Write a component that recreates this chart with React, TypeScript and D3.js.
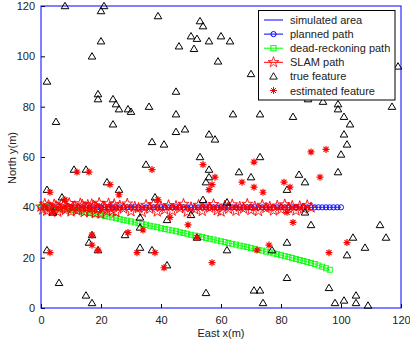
import React from "react";
import * as d3 from "d3";

// planned path (x positions, all at north = 40)
const plannedX = [0, 1.25, 2.5, 3.75, 5, 6.25, 7.5, 8.75, 10, 11.25, 12.5, 13.75, 15, 16.25, 17.5, 18.75, 20, 21.25, 22.5, 23.75, 25, 26.25, 27.5, 28.75, 30, 31.25, 32.5, 33.75, 35, 36.25, 37.5, 38.75, 40, 41.25, 42.5, 43.75, 45, 46.25, 47.5, 48.75, 50, 51.25, 52.5, 53.75, 55, 56.25, 57.5, 58.75, 60, 61.25, 62.5, 63.75, 65, 66.25, 67.5, 68.75, 70, 71.25, 72.5, 73.75, 75, 76.25, 77.5, 78.75, 80, 81.25, 82.5, 83.75, 85, 86.25, 87.5, 88.75, 90, 91.25, 92.5, 93.75, 95, 96.25, 97.5, 98.75, 100];
const plannedY = 40;

const deadReckoning: [number, number][] = [
  [0, 40], [1.25, 40], [2.5, 39.9], [3.75, 39.8], [5, 39.7], [6.25, 39.6], [7.5, 39.4], [8.75, 39.2], [10, 39],
  [11.25, 38.8], [12.5, 38.5], [13.75, 38.3], [15, 38], [16.25, 37.7], [17.5, 37.5], [18.75, 37.2], [20, 36.9],
  [21.25, 36.6], [22.5, 36.3], [23.75, 36], [25, 35.7], [26.25, 35.3], [27.5, 35], [28.75, 34.7], [30, 34.4],
  [31.25, 34], [32.5, 33.7], [33.75, 33.4], [35, 33.1], [36.25, 32.7], [37.5, 32.4], [38.75, 32.1], [40, 31.7],
  [41.25, 31.4], [42.5, 31.1], [43.75, 30.8], [45, 30.5], [46.25, 30.1], [47.5, 29.8], [48.75, 29.5], [50, 29.1],
  [51.25, 28.8], [52.5, 28.5], [53.75, 28.2], [55, 27.8], [56.25, 27.5], [57.5, 27.2], [58.75, 26.8], [60, 26.5],
  [61.25, 26.2], [62.5, 25.8], [63.75, 25.5], [65, 25.2], [66.25, 24.8], [67.5, 24.5], [68.75, 24.2], [70, 23.8],
  [71.25, 23.5], [72.5, 23.1], [73.75, 22.8], [75, 22.4], [76.25, 22.1], [77.5, 21.7], [78.75, 21.4], [80, 21],
  [81.25, 20.6], [82.5, 20.3], [83.75, 19.9], [85, 19.5], [86.25, 19.1], [87.5, 18.7], [88.75, 18.3], [90, 17.9],
  [91.25, 17.5], [92.5, 16.9], [93.75, 16.4], [95, 15.8], [96.25, 15.2],
];

const slamPath: [number, number][] = [
  [0, 40.2], [0.6, 39.1], [1.25, 41.3], [1.9, 38.6], [2.5, 40.8], [3.1, 39.9], [3.75, 38.4], [4.4, 41.1], [5, 40.5],
  [5.6, 38.2], [6.25, 39.4], [6.9, 41.4], [7.5, 40.9], [8.1, 38.9], [8.75, 39.6], [9.4, 41.6], [10, 38.3],
  [10.6, 40.1], [11.25, 40.4], [11.9, 38.7], [12.5, 39.2], [13.1, 41.5], [13.75, 41], [14.4, 38.1], [15, 39.8],
  [15.6, 40.9], [16.25, 38], [16.9, 41.2], [17.5, 40.6], [18.1, 37.6], [18.75, 39.3], [19.4, 41.7], [20, 37.5],
  [20.6, 40.3], [21.25, 40.1], [21.9, 38.4], [22.5, 41.5], [23.1, 39.6], [23.75, 38.6], [24.4, 41.2], [25, 38.1],
  [26.25, 40.7], [27.5, 39.5], [28.75, 41.4], [30, 38.4], [31.25, 40.2], [32.5, 39.7], [33.75, 38.1], [35, 40.9],
  [36.25, 39.4], [37.5, 41.2], [38.75, 38.3], [40, 40.3], [41.25, 39.1], [42.5, 40.8], [43.75, 38.6], [45, 40.5],
  [46.25, 39.6], [47.5, 41.3], [48.75, 38.2], [50, 40], [51.25, 39.2], [52.5, 40.9], [53.75, 38.5], [55, 40.4],
  [56.25, 39.8], [57.5, 41.2], [58.75, 38.8], [60, 38.3], [61.25, 40.6], [62.5, 39.4], [63.75, 41.1], [65, 38.6],
  [66.25, 40.2], [67.5, 39.5], [68.75, 41.3], [70, 38.9], [71.25, 40.3], [72.5, 38.5], [73.75, 40.9], [75, 39.7],
  [76.25, 40.2], [77.5, 38.7], [78.75, 40.6], [80, 39.2], [81.25, 41.1], [82.5, 39.8], [83.75, 40.5], [85, 38.7],
  [86.25, 40.4], [87.5, 39.5], [88.75, 40.8], [90, 39.9],
];

const trueFeatures: [number, number][] = [
  [8, 120], [21, 120], [20, 118], [20, 106], [17, 100], [2, 90], [19, 85], [19, 83], [24, 83], [25, 81], [26, 79],
  [29, 79], [5, 74], [24, 73], [39, 116], [53, 114], [54, 112], [50, 108], [52, 107], [60, 108], [63, 106], [56, 106],
  [46, 104], [51, 103], [59, 98], [70, 93], [45, 86], [36, 80], [45, 77], [64, 77], [73, 77], [30, 78], [119, 96],
  [94, 82], [89, 83], [99, 81], [99, 79], [101, 76], [117, 80], [84, 76], [103, 73], [101, 69], [102, 65], [100, 61],
  [73, 60], [99, 54], [86, 53], [88, 50], [82, 47], [88, 38], [90, 33], [113, 33], [45, 70], [48, 71], [37, 66],
  [41, 65], [56, 69], [58, 67], [53, 60], [56, 55], [56, 52], [55, 50], [66, 54], [70, 52], [35, 57], [38, 44],
  [54, 43], [62, 42], [33, 36], [42, 35], [50, 37], [11, 55], [15, 55], [22, 50], [26, 47], [2, 47], [7, 44], [4, 38],
  [17, 29], [16, 26], [19, 23], [2, 23], [6, 10], [15, 5], [17, 2], [28, 29], [33, 32], [33, 24], [37, 23], [42, 17],
  [52, 28], [62, 23], [55, 6], [71, 7], [73, 7], [74, 2], [115, 28], [104, 28], [108, 24], [102, 21], [82, 26],
  [77, 23], [82, 12], [96, 8], [98, 2], [101, 3], [105, 5], [105, 2], [109, 1],
];

const estimatedFeatures: [number, number][] = [
  [3, 46], [8, 43], [12, 54], [16, 54], [23, 49], [26, 45], [4, 38], [17, 29], [17, 25], [19, 23], [3, 22], [29, 30],
  [32, 22], [34, 31], [38, 22], [41, 16], [52, 28], [57, 18], [72, 23], [76, 25], [96, 22], [102, 26], [84, 34],
  [82, 38], [74, 46], [83, 48], [81, 50], [93, 52], [90, 62], [95, 63], [54, 57], [58, 52], [57, 49], [56, 47],
  [37, 55], [71, 58], [67, 50], [71, 48], [39, 43], [43, 36], [49, 33],
];

const ticks = [0, 20, 40, 60, 80, 100, 120];
const legendLabels = ["simulated area", "planned path", "dead-reckoning path", "SLAM path", "true feature", "estimated feature"];

const width = 410;
const height = 345;
const margin = { top: 6, right: 9, bottom: 37, left: 41 };
const font = "'Liberation Sans', Arial, sans-serif";

const triPath = "M0,-3.7L3.8,2.7L-3.8,2.7Z";
const asterisk = "M-3.5,0H3.5M0,-3.5V3.5M-2.5,-2.5L2.5,2.5M-2.5,2.5L2.5,-2.5";
const starPath = d3.symbol(d3.symbolStar, 36)() as string;

export default function App() {
  const xAxisRef = React.useRef<SVGGElement>(null);
  const yAxisRef = React.useRef<SVGGElement>(null);

  const x = d3.scaleLinear().domain([0, 120]).range([margin.left, width - margin.right]);
  const y = d3.scaleLinear().domain([0, 120]).range([height - margin.bottom, margin.top]);

  React.useEffect(() => {
    const gx = d3.select(xAxisRef.current!);
    gx.call(d3.axisBottom(x).tickValues(ticks).tickSize(-4).tickPadding(8).tickFormat(d3.format("d")));
    gx.select(".domain").remove();
    gx.selectAll("text").attr("font-size", 11).attr("font-family", font).attr("fill", "#222");
    const gy = d3.select(yAxisRef.current!);
    gy.call(d3.axisLeft(y).tickValues(ticks).tickSize(-4).tickPadding(6).tickFormat(d3.format("d")));
    gy.select(".domain").remove();
    gy.selectAll("text").attr("font-size", 11).attr("font-family", font).attr("fill", "#222");
  }, []);

  const lx0 = 264;
  const lx1 = 283;
  const lxm = (lx0 + lx1) / 2;
  const ly = (i: number) => 20 + i * 14.1;

  return (
    <svg width={width} height={height} style={{ position: "fixed", left: 0, top: 0, background: "#fff" }}>
      <rect x={0} y={0} width={width} height={height} fill="#fff" />
      <g ref={xAxisRef} transform={`translate(0,${y(0)})`} />
      <g ref={yAxisRef} transform={`translate(${x(0)},0)`} />

      {/* simulated area */}
      <rect x={x(0)} y={y(120)} width={x(120) - x(0)} height={y(0) - y(120)} fill="none" stroke="#0000ff" strokeWidth={1} />

      {/* planned path */}
      <path d={d3.line()(plannedX.map((v) => [x(v), y(plannedY)]))!} stroke="#0000ff" fill="none" strokeWidth={0.8} />
      {plannedX.map((v, i) => (
        <circle key={"p" + i} cx={x(v)} cy={y(plannedY)} r={2.6} fill="none" stroke="#0000ff" strokeWidth={0.9} />
      ))}

      {/* dead-reckoning path */}
      <path d={d3.line()(deadReckoning.map(([a, b]) => [x(a), y(b)]))!} stroke="#00ff00" fill="none" strokeWidth={0.8} />
      {deadReckoning.map(([a, b], i) => (
        <rect key={"d" + i} x={x(a) - 2.5} y={y(b) - 2.5} width={5} height={5} fill="none" stroke="#00ff00" strokeWidth={0.9} />
      ))}

      {/* SLAM path */}
      <path d={d3.line()(slamPath.map(([a, b]) => [x(a), y(b)]))!} stroke="#ff0000" fill="none" strokeWidth={0.8} />
      {slamPath.map(([a, b], i) => (
        <path key={"s" + i} d={starPath} transform={`translate(${x(a)},${y(b)})`} fill="none" stroke="#ff0000" strokeWidth={0.9} />
      ))}

      {/* true features */}
      {trueFeatures.map(([a, b], i) => (
        <path key={"t" + i} d={triPath} transform={`translate(${x(a)},${y(b)})`} fill="none" stroke="#000" strokeWidth={1} />
      ))}

      {/* estimated features */}
      {estimatedFeatures.map(([a, b], i) => (
        <path key={"e" + i} d={asterisk} transform={`translate(${x(a)},${y(b)})`} fill="none" stroke="#ff0000" strokeWidth={1.2} />
      ))}

      {/* axis labels */}
      <text x={(x(0) + x(120)) / 2} y={337} textAnchor="middle" fontSize={11} fontFamily={font} fill="#222">East x(m)</text>
      <text transform={`translate(16,158) rotate(-90)`} textAnchor="middle" fontSize={11} fontFamily={font} fill="#222">North y(m)</text>

      {/* legend */}
      <g>
        <rect x={258.5} y={10.5} width={136.5} height={89.5} fill="#fff" stroke="#000" strokeWidth={1} />
        <line x1={lx0} x2={lx1} y1={ly(0)} y2={ly(0)} stroke="#0000ff" />
        <line x1={lx0} x2={lx1} y1={ly(1)} y2={ly(1)} stroke="#0000ff" />
        <circle cx={lxm} cy={ly(1)} r={2.6} fill="none" stroke="#0000ff" />
        <line x1={lx0} x2={lx1} y1={ly(2)} y2={ly(2)} stroke="#00ff00" />
        <rect x={lxm - 2.6} y={ly(2) - 2.6} width={5.2} height={5.2} fill="none" stroke="#00ff00" />
        <line x1={lx0} x2={lx1} y1={ly(3)} y2={ly(3)} stroke="#ff0000" />
        <path d={starPath} transform={`translate(${lxm},${ly(3)})`} fill="none" stroke="#ff0000" strokeWidth={0.8} />
        <path d={triPath} transform={`translate(${lxm},${ly(4)})`} fill="none" stroke="#000" strokeWidth={0.9} />
        <path d={asterisk} transform={`translate(${lxm},${ly(5)})`} fill="none" stroke="#ff0000" />
        {legendLabels.map((t, i) => (
          <text key={t} x={290} y={ly(i) + 4} fontSize={11} fontFamily={font} fill="#222">{t}</text>
        ))}
      </g>
    </svg>
  );
}
